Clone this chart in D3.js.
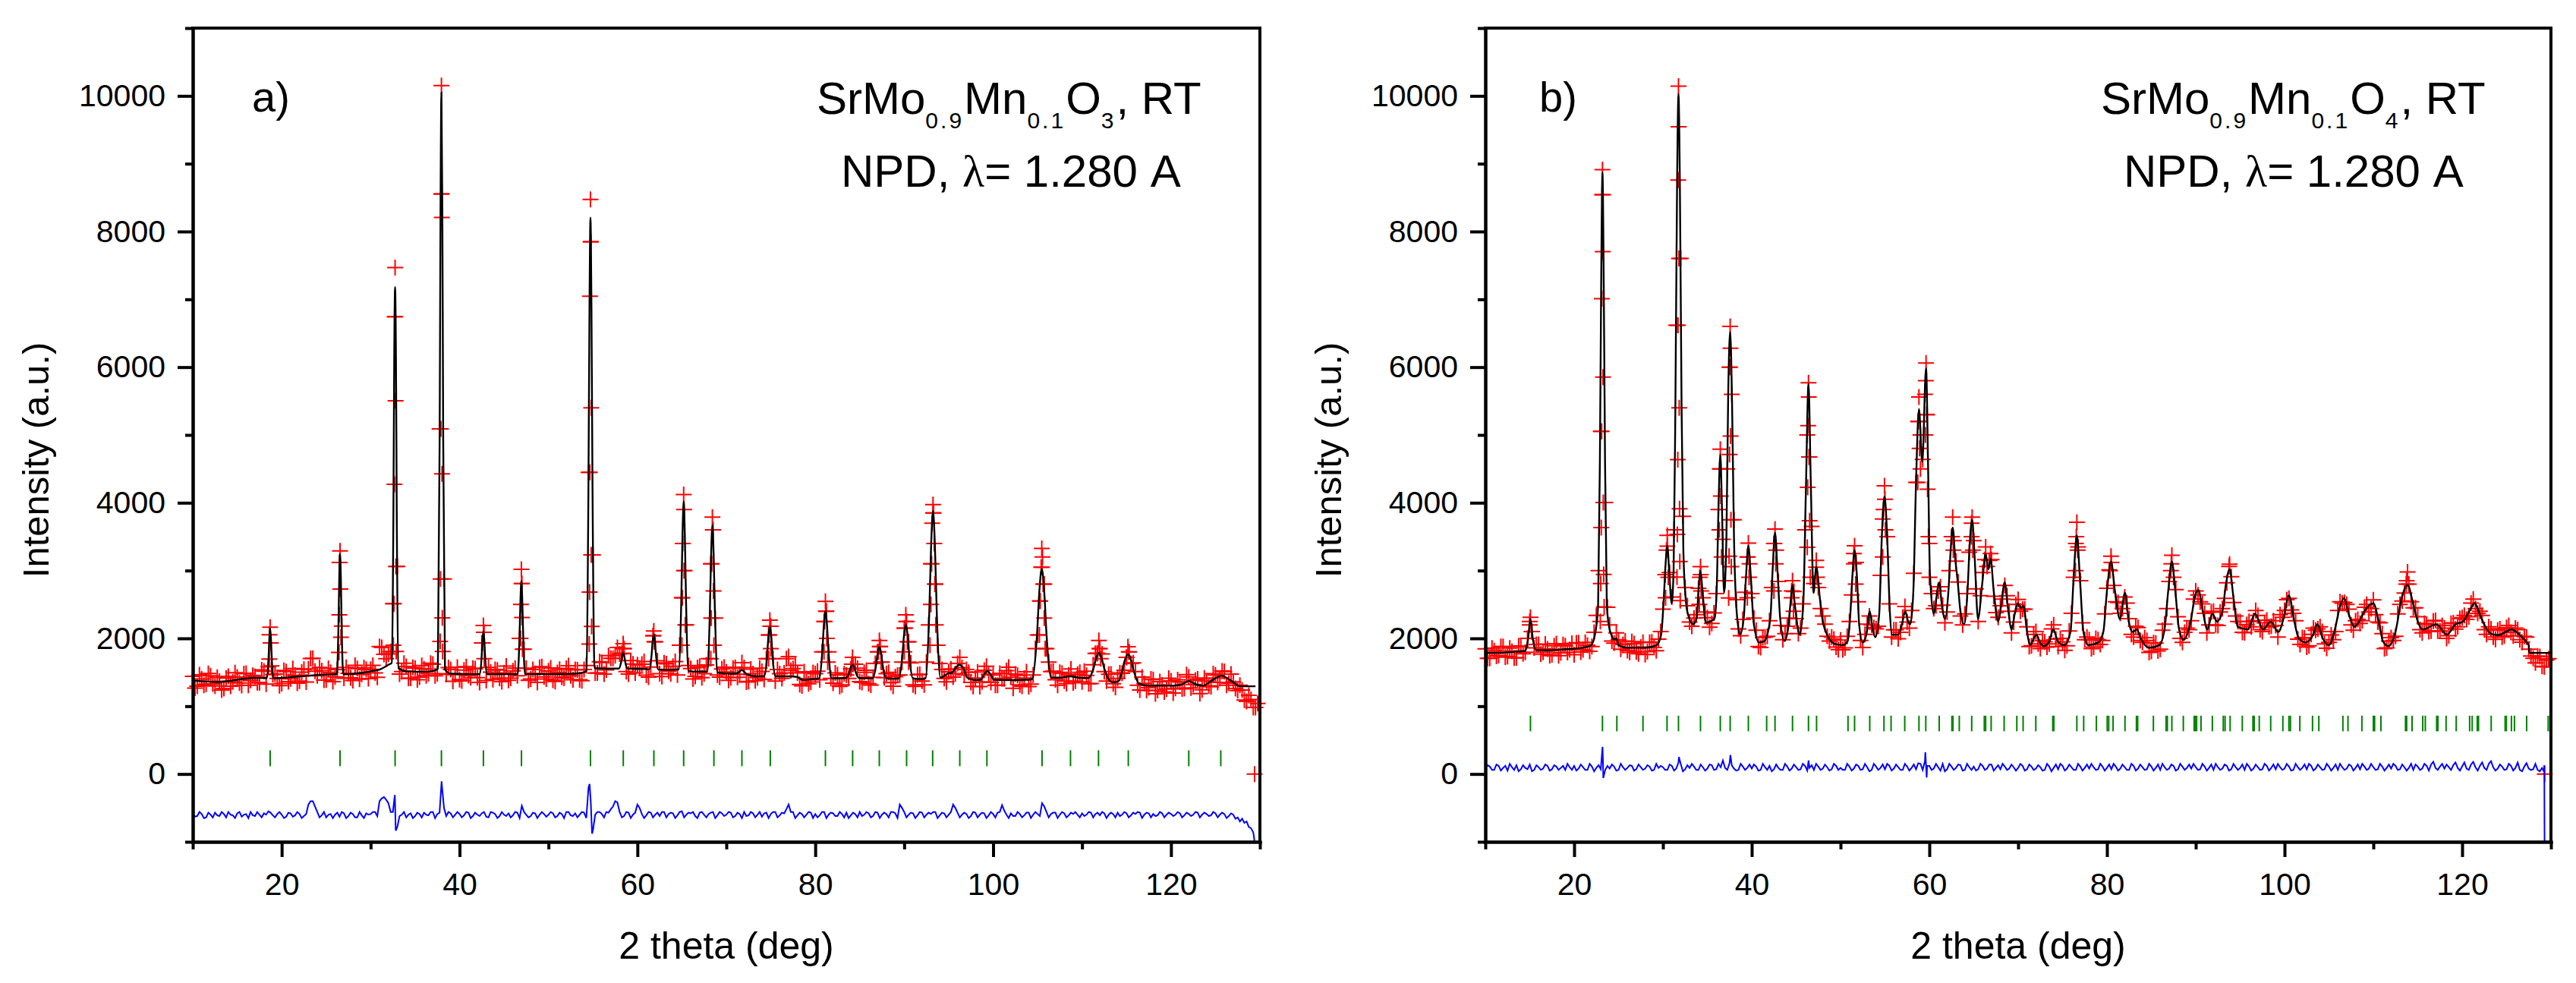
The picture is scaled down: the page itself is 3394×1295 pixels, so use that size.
<!DOCTYPE html>
<html>
<head>
<meta charset="utf-8">
<script src="https://cdn.jsdelivr.net/npm/d3@7"></script>
<style>
  body { margin: 0; background: #fff; }
  text { font-family: "Liberation Sans", Arial, sans-serif; fill: #000; }
</style>
</head>
<body>
<svg id="chart" width="3394" height="1295"></svg>
<script>
// axis ticks
var xMajor = [20, 40, 60, 80, 100, 120];
var xMinor = [10, 30, 50, 70, 90, 110, 130];
var yMajor = [0, 2000, 4000, 6000, 8000, 10000];
var yMinor = [-1000, 1000, 3000, 5000, 7000, 9000, 11000];

// observed band and difference curve are read on a 0.5 deg grid from 10 deg,
// plus a second grid shifted by 0.25 deg
var GRID_START = 10, GRID_STEP = 0.5, GRID_SHIFT = 0.25;

// ---------- a) SrMo0.9Mn0.1O3 ----------
var calcA = [[10,1380],[12.8,1357],[16.9,1418],
  [18.34,1415],[18.52,1709],[18.61,2003],[18.7,2150],[18.79,2003],[18.88,1709],[19.06,1412],
  [22,1440],[25.5,1470],
  [26.2,1472],[26.38,2183],[26.47,2894],[26.56,3250],[26.65,2894],[26.74,2183],[26.92,1472],
  [29,1490],[30.1,1518],[31.0,1540],[32.0,1610],
  [32.37,1640],[32.56,3840],[32.65,6060],[32.75,7180],[32.85,6060],[32.94,3800],[33.13,1560],
  [34,1515],[36.5,1509],[37.3,1530],
  [37.56,1560],[37.76,4940],[37.86,8350],[37.96,10050],[38.06,8350],[38.16,4940],[38.36,1540],
  [39,1480],[41,1472],
  [42.28,1472],[42.48,1726],[42.58,1981],[42.68,2108],[42.78,1981],[42.88,1726],[43.08,1472],
  [45,1472],
  [46.53,1472],[46.74,2022],[46.85,2571],[46.95,2846],[47.05,2571],[47.16,2022],[47.37,1472],
  [50,1472],[53,1480],[54.0,1500],
  [54.26,1520],[54.49,4200],[54.61,6880],[54.72,8206],[54.83,6880],[54.95,4220],[55.18,1560],
  [56.5,1555],[57.5,1555],
  [57.92,1555],[58.16,1647],[58.28,1740],[58.4,1786],[58.52,1740],[58.64,1647],[58.88,1555],
  [60.5,1550],
  [61.34,1545],[61.59,1751],[61.71,1957],[61.84,2060],[61.97,1957],[62.09,1751],[62.34,1540],
  [63.5,1535],[64.4,1540],
  [64.66,1545],[64.93,2537],[65.07,3530],[65.2,4020],[65.33,3530],[65.47,2530],[65.74,1520],
  [66.8,1510],[67.7,1510],
  [67.85,1505],[68.14,2370],[68.29,3240],[68.43,3674],[68.57,3240],[68.72,2370],[69.01,1495],
  [70.5,1480],[71.2,1485],[71.74,1533],[72.3,1470],[73.5,1440],
  [74.27,1445],[74.58,1735],[74.73,2030],[74.89,2177],[75.05,2030],[75.2,1735],[75.51,1440],
  [77,1440],[78.0,1430],[78.6,1385],[79.5,1395],[80.2,1405],
  [80.44,1410],[80.79,1805],[80.97,2205],[81.14,2406],[81.31,2205],[81.49,1805],[81.84,1410],
  [83.2,1415],
  [83.47,1420],[83.83,1500],[84.01,1580],[84.19,1610],[84.37,1580],[84.55,1500],[84.91,1415],
  [86.45,1412],[86.83,1598],[87.02,1784],[87.21,1877],[87.4,1784],[87.59,1598],[87.97,1412],
  [88.8,1405],
  [89.39,1410],[89.78,1730],[89.98,2050],[90.18,2209],[90.38,2050],[90.58,1730],[90.97,1410],
  [92,1400],
  [92.4,1410],[92.82,2390],[93.03,3380],[93.24,3880],[93.45,3380],[93.66,2390],[94.08,1420],
  [95.0,1487],[95.3,1490],[95.75,1560],[96.2,1610],[96.65,1560],[97.1,1420],[98.0,1385],
  [98.6,1390],[99.0,1470],[99.35,1518],[99.7,1470],[100.1,1390],
  [102,1385],[104,1390],
  [104.39,1400],[104.93,2045],[105.2,2700],[105.47,3029],[105.74,2700],[106.01,2045],[106.55,1420],
  [107.5,1420],[108.65,1440],[109.8,1418],
  [110.69,1415],[111.29,1560],[111.59,1710],[111.89,1786],[112.19,1710],[112.49,1560],[113.09,1380],[113.4,1352],
  [114.1,1370],[114.53,1530],[114.84,1690],[115.16,1762],[115.48,1690],[115.79,1530],[116.42,1330],
  [117.5,1302],[120,1302],[121.2,1320],[121.98,1372],[122.8,1320],[123.6,1302],[124.6,1380],
  [125.69,1450],[126.7,1380],[127.8,1293],[129.5,1293]];

var obsGridA = [
  1440,1295,1400,1325,1450,1298,1367,1262,1440,1360,1428,1306,1484,1382,1438,1346,1515,1580,1465,1410,
  1335,1510,1405,1458,1370,1545,1550,1705,1450,1523,1387,1500,1432,3120,1412,1485,1380,1555,1470,1540,
  1545,1490,1880,1765,1770,2513,3060,1510,1585,1412,1560,1430,1550,1479,1620,1480,8553,1470,1540,1466,
  1394,1532,1452,1562,1422,1933,1380,1502,1542,1412,1492,1382,1522,1450,2808,1560,1402,1482,1572,1432,
  1522,1384,1495,1426,1557,1448,1540,1390,1540,4449,3231,1490,1645,1535,1705,1745,1770,1850,1475,1622,
  1610,1620,1458,1578,1950,1480,1638,1515,1588,1460,2600,2200,1555,1440,1590,1480,1700,3600,1460,1550,
  1505,1420,1573,1470,1570,1365,1480,1420,1513,1700,2180,1370,1480,1490,1730,1555,1490,1300,1408,1355,
  1480,1390,2250,1800,1340,1462,1315,1460,1550,1620,1362,1500,1330,1425,1800,1650,1480,1347,1435,1460,
  2150,1950,1315,1462,1370,1650,3100,2800,1630,1410,1507,1430,1630,1570,1540,1350,1415,1288,1530,1470,
  1460,1308,1405,1525,1425,1475,1315,1416,1288,1460,2050,3050,1850,1510,1390,1500,1370,1460,1345,1470,
  1358,1455,1335,1780,1850,1510,1470,1332,1410,1485,1720,1630,1510,1240,1335,1272,1392,1232,1312,1252,
  1372,1265,1355,1260,1432,1320,1400,1242,1370,1285,1460,1415,1510,1340,1360,1230,1240,1070,1100,980];

var obsGrid2A = [
  1268,1462,1308,1482,1329,1427,1240,1416,1295,1494,1342,1480,1308,1455,1347,1535,1325,1933,1475,1302,
  1527,1362,1556,1339,1502,1357,1702,1517,1571,1385,1558,1361,1540,2183,1573,1417,1602,1397,1565,1407,
  1602,1425,1865,1700,1805,6744,1475,1632,1413,1571,1390,1600,1450,1634,1448,5089,2876,1570,1368,1575,
  1373,1582,1422,1552,1352,2090,1572,1392,1532,1362,1592,1412,1562,2000,1840,1382,1542,1352,1582,1402,
  1563,1364,1545,1416,1597,1389,1535,1375,1600,7848,1488,1656,1475,1745,1705,1865,1780,1510,1673,1491,
  1560,1659,1428,2040,1670,1438,1626,1476,1659,1900,3000,1600,1402,1570,1420,1608,3100,2300,1430,1575,
  1382,1561,1427,1643,1355,1548,1375,1561,1395,2050,1700,1540,1410,1700,1528,1602,1320,1507,1332,1497,
  1516,1800,2400,1410,1491,1293,1476,1410,1620,1560,1351,1530,1311,1630,1880,1420,1499,1295,1458,1650,
  2250,1640,1293,1471,1315,2200,3850,1900,1540,1360,1550,1480,1720,1460,1500,1292,1506,1360,1590,1350,
  1308,1486,1405,1575,1265,1455,1295,1507,1325,1850,2550,2800,1650,1515,1310,1485,1335,1550,1370,1498,
  1516,1330,1610,1780,1770,1370,1475,1278,1490,1530,1800,1640,1310,1430,1233,1402,1182,1362,1212,1412,
  1194,1390,1255,1465,1270,1385,1185,1415,1300,1480,1350,1518,1310,1475,1260,1310,1090,1160,980,1040];

var obsPeakA = [
  [18.7,2164],[18.62,2052],[18.78,1933],[18.6,1694],[18.85,1593],
  [26.56,3290],[26.52,3120],[26.6,2729],[26.48,2347],[26.66,2018],[26.44,1794],
  [32.75,7467],[32.7,6744],[32.8,5505],[32.68,4272],[32.84,3060],[32.62,2513],[32.88,1808],[32.55,1900],
  [37.96,10153],[37.93,8553],[38.0,8206],[37.9,5089],[38.03,4426],[37.86,2876],[38.06,2301],[37.82,1956],[38.1,1808],
  [42.68,2190],[42.72,2090],[42.62,1933],[42.78,1700],
  [46.95,3019],[46.98,2808],[46.9,2500],[47.02,2307],[46.86,2000],[47.08,1840],
  [54.72,8474],[54.75,7848],[54.68,7046],[54.8,5400],[54.65,4449],[54.8,3231],[54.62,2683],[54.85,2177],[54.58,1917],
  [58.4,1923],[58.45,1850],[58.3,1780],
  [61.84,2110],[61.8,2040],[61.9,1950],
  [65.2,4120],[65.25,3900],[65.1,3400],[65.3,3000],[65.05,2600],[65.38,2200],[65.0,1900],
  [68.43,3787],[68.48,3600],[68.35,3100],[68.55,2700],[68.3,2300],[68.6,1900],[68.25,1700],
  [74.89,2269],[74.95,2180],[74.82,2050],[75.0,1850],[74.75,1700],
  [81.14,2545],[81.2,2400],[81.05,2250],[81.3,2000],[80.98,1800],[81.4,1650],
  [84.19,1720],[84.1,1620],
  [87.21,1969],[87.3,1880],[87.1,1800],[87.4,1650],
  [90.18,2347],[90.25,2250],[90.1,2150],[90.35,1950],[90.0,1800],[90.5,1650],
  [93.24,3972],[93.3,3850],[93.15,3700],[93.38,3400],[93.08,3100],[93.45,2800],[93.0,2500],[93.55,2200],[92.9,1900],
  [105.47,3327],[105.55,3200],[105.4,3050],[105.62,2800],[105.3,2550],[105.75,2300],[105.2,2050],[105.85,1850],
  [111.89,1969],[111.95,1850],[111.7,1780],[112.1,1700],
  [115.16,1877],[115.3,1800],[115.0,1720],
  [129.4,0]];

var diffGridA = [
  -580,-620,-590,-640,-600,-570,-620,-590,-560,-610,-580,-630,-590,-560,-620,-600,-580,-550,-610,-590,
  -600,-630,-580,-610,-590,-620,-450,-400,-560,-610,-640,-590,-600,-630,-580,-620,-590,-640,-610,-580,
  -590,-560,-400,-340,-430,-560,-780,-600,-640,-580,-620,-590,-570,-610,-560,-590,-150,-620,-580,-600,
  -590,-610,-570,-620,-600,-580,-630,-560,-590,-620,-600,-580,-610,-570,-470,-600,-620,-580,-600,-590,
  -600,-580,-620,-590,-560,-610,-580,-600,-570,-200,-830,-560,-590,-560,-520,-400,-560,-620,-570,-600,
  -450,-590,-610,-570,-600,-620,-560,-590,-580,-610,-550,-600,-580,-620,-570,-600,-590,-560,-610,-580,
  -600,-570,-620,-590,-560,-610,-580,-600,-630,-570,-590,-560,-610,-580,-450,-560,-610,-590,-600,-570,
  -590,-610,-560,-600,-580,-620,-590,-570,-610,-590,-560,-600,-580,-620,-570,-600,-590,-560,-580,-450,
  -560,-600,-580,-610,-570,-600,-590,-560,-610,-580,-600,-450,-570,-600,-590,-620,-570,-600,-580,-610,
  -590,-570,-460,-600,-580,-620,-590,-610,-570,-600,-590,-430,-560,-590,-570,-600,-580,-610,-590,-600,
  -580,-600,-570,-590,-610,-580,-600,-590,-570,-600,-580,-610,-590,-570,-600,-580,-590,-610,-580,-600,
  -590,-600,-580,-610,-590,-600,-570,-600,-590,-610,-580,-600,-590,-620,-600,-640,-660,-700,-800];
var diffGrid2A = [
  -630,-560,-650,-570,-640,-610,-560,-640,-600,-650,-560,-600,-650,-610,-560,-640,-600,-570,-640,-560,
  -650,-570,-630,-560,-650,-590,-400,-480,-640,-560,-600,-650,-570,-560,-650,-570,-640,-560,-650,-600,
  -560,-620,-360,-380,-560,-450,-620,-560,-600,-650,-570,-640,-600,-560,-650,-570,-500,-560,-640,-560,
  -640,-560,-650,-570,-620,-560,-640,-570,-650,-560,-620,-640,-560,-650,-560,-640,-570,-650,-560,-630,
  -560,-640,-570,-650,-560,-620,-640,-560,-650,-400,-600,-560,-640,-570,-480,-420,-640,-560,-650,-570,
  -500,-650,-560,-640,-570,-560,-640,-570,-650,-560,-640,-570,-560,-650,-560,-640,-570,-650,-560,-620,
  -560,-640,-570,-650,-620,-560,-640,-560,-580,-650,-560,-640,-570,-520,-560,-650,-570,-640,-560,-650,
  -640,-560,-650,-570,-620,-560,-640,-650,-570,-640,-620,-560,-640,-560,-650,-570,-640,-560,-650,-500,
  -640,-570,-650,-560,-640,-570,-560,-650,-570,-640,-560,-500,-640,-570,-650,-560,-640,-570,-650,-560,
  -640,-560,-540,-650,-620,-560,-640,-570,-650,-560,-620,-480,-640,-570,-650,-560,-640,-570,-560,-640,
  -620,-560,-640,-570,-560,-650,-570,-640,-620,-560,-640,-570,-560,-650,-570,-640,-620,-560,-640,-570,
  -620,-560,-640,-570,-620,-560,-640,-570,-620,-560,-640,-570,-650,-580,-660,-700,-720,-780,-860];
var diffExtraA = [[32.72,-310],[32.82,-835],[37.98,-107],[54.62,-148],[54.9,-880],[129.3,-900],[129.4,-1000]];

var braggA = [18.7,26.56,32.75,37.96,42.68,46.96,54.72,58.41,61.85,65.2,68.6,71.75,74.94,81.14,84.2,
  87.2,90.27,93.2,96.25,99.3,105.5,108.7,111.85,115.2,122.0,125.6];
var braggSpanA = [115, 350];

// ---------- b) SrMo0.9Mn0.1O4 ----------
var calcB = [[10,1786],[12,1790],[14,1810],
  [14.5,1815],[14.8,1980],[15.08,2286],[15.35,1990],[15.7,1830],
  [17,1824],[19,1840],[21,1862],[21.9,1900],[22.4,2094],
  [22.7,2500],[22.9,4600],[23.05,7300],[23.19,8874],[23.33,7300],[23.48,4600],[23.68,2500],[23.9,2200],
  [24.2,2050],[24.45,1985],[24.75,2000],[25.0,1900],[26,1862],[28,1862],[29.3,1900],[29.8,2055],[30.1,2600],
  [30.3,3100],[30.49,3365],[30.7,3000],[30.98,2518],
  [31.2,3000],[31.4,5400],[31.6,8800],[31.75,10030],[31.9,8800],[32.1,5400],[32.3,3300],[32.55,2600],[32.8,2363],[33.4,2209],
  [33.8,2300],[34.0,2700],[34.23,2995],[34.45,2700],[34.83,2232],[35.3,2248],[35.8,2290],
  [36.05,2700],[36.25,3900],[36.46,4713],[36.65,3900],[36.88,2672],
  [37.15,3500],[37.35,5600],[37.57,6524],[37.78,5500],[38.0,3500],[38.3,2400],[38.68,2055],
  [39.1,2300],[39.35,2900],[39.62,3365],[39.9,2900],[40.2,2250],[40.82,1940],[41.4,1960],
  [42.1,2300],[42.35,3000],[42.62,3558],[42.9,3000],[43.2,2300],[43.68,1963],
  [44.1,2150],[44.35,2500],[44.59,2787],[44.85,2500],[45.39,2055],
  [45.8,2500],[46.1,4200],[46.39,5754],[46.65,4300],[46.96,2672],[47.27,3057],[47.67,2595],[48.0,2250],
  [48.24,2132],[49.38,1917],[50.24,1901],
  [50.8,1960],[51.1,2350],[51.35,2950],[51.58,3303],[51.85,2900],[52.1,2200],[52.49,1940],
  [52.9,2050],[53.29,2402],[53.6,2150],[53.92,2017],
  [54.35,2350],[54.65,3500],[54.95,4097],[55.25,3500],[55.55,2400],[55.8,2055],[56.5,2055],
  [56.9,2200],[57.29,2402],[57.6,2250],[57.86,2209],
  [58.2,2700],[58.5,4300],[58.83,5384],[59.2,4598],[59.63,5985],[59.85,4600],[60.06,2980],[60.48,2363],
  [61.11,2826],[61.4,2500],[61.77,2286],
  [62.15,2700],[62.4,3300],[62.63,3635],[62.9,3200],[63.2,2826],[63.5,2400],[63.91,2209],
  [64.3,2700],[64.55,3400],[64.82,3750],[65.1,3200],[65.48,2286],
  [65.95,2800],[66.34,3250],[66.65,3018],[66.9,3172],[67.25,2700],[67.76,2248],
  [68.1,2500],[68.48,2826],[68.85,2450],[69.27,2132],
  [69.6,2350],[69.96,2518],[70.3,2450],[70.6,2479],[71.0,2100],[71.33,1901],
  [72.04,2055],[72.5,1930],[72.9,1886],
  [73.5,1950],[73.95,2132],[74.5,1950],[75.2,1901],
  [75.9,2100],[76.25,2900],[76.61,3519],[76.95,2900],[77.35,2100],[77.9,1901],[79.03,1940],
  [79.6,2100],[80.0,2700],[80.46,3134],[80.9,2700],[81.46,2286],
  [82.03,2672],[82.45,2250],[82.9,2094],[83.37,2132],[83.8,2000],[84.74,1862],[85.9,1901],
  [86.5,2150],[86.9,2700],[87.31,3134],[87.7,2700],[88.1,2150],[88.6,1978],
  [89.5,2300],[89.9,2620],[90.3,2710],[90.8,2400],[91.3,2132],
  [91.87,2363],[92.4,2248],
  [93.0,2400],[93.4,2800],[93.81,3018],[94.25,2600],[94.73,2171],[95.87,2132],
  [96.67,2363],[97.58,2132],[98.44,2248],[99.3,2094],
  [99.9,2300],[100.49,2633],[101.1,2250],[101.6,2000],[102.4,1940],
  [103.2,2050],[103.7,2209],[104.3,2000],[105.0,1901],
  [105.7,2150],[106.2,2450],[106.71,2595],[107.25,2350],[107.86,2171],
  [108.4,2250],[109.0,2402],[110.0,2518],[110.6,2250],[111.1,1950],[111.7,1886],
  [112.5,2100],[113.2,2600],[113.85,2787],[114.5,2500],[115.0,2250],[115.56,2132],
  [117.1,2209],[118.27,2055],[119.27,2209],[120.1,2248],
  [120.8,2400],[121.41,2518],[122.0,2350],[122.7,2150],[123.55,2055],[124.1,2050],[125.55,2132],
  [126.5,2050],[127.27,1940],[127.5,1900],[127.55,1786],[130,1786]];

var obsGridB = [
  1846,1706,1818,1748,1880,1735,1810,1715,1880,1795,2250,1860,1910,1796,1844,1758,1922,1786,1890,1835,
  1760,1935,1832,1900,1880,2340,5052,4005,2200,1930,1980,1910,1822,1952,1802,1872,1762,1940,1865,1990,
  2430,3360,2610,6617,7603,2750,2240,2300,2740,2600,2305,2220,2660,4500,2850,6000,3750,2140,2280,3200,
  2660,2120,1865,2020,2260,3400,2840,1980,2180,2700,2290,2150,3600,4675,2810,2750,2330,2030,2020,1870,
  1975,1860,2250,3250,2540,1865,2210,2200,2140,2930,4050,2510,2125,1995,2310,2240,2410,4300,5000,5600,
  3400,2440,2700,2490,2390,3500,3140,2330,2360,3270,3440,2250,2970,3060,3160,2380,2480,2780,2400,2240,
  2575,2430,2170,1890,2100,1850,1950,1920,2200,1880,1950,1890,2370,3400,2850,1980,1980,1870,1980,1970,
  2740,3120,2540,2370,2610,2290,2020,2160,1940,1970,1810,1930,1840,2210,2840,2900,2320,1940,2150,2260,
  2700,2540,2370,2200,2400,2190,2440,2820,2910,2330,2245,2085,2250,2260,2340,2100,2270,2180,2190,2350,
  2410,2590,2370,1990,2010,1870,2060,2120,2170,1920,1941,1980,2410,2520,2500,2200,2260,2220,2460,2390,
  2568,2240,2070,1860,2010,2030,2500,2670,2800,2450,2320,2080,2210,2110,2265,2110,2150,2040,2230,2170,
  2305,2280,2520,2440,2400,2130,2170,2020,2120,2020,2160,2090,2150,1980,2030,1840,1706,1740,1590,1680];

var obsGrid2B = [
  1706,1857,1738,1879,1722,1857,1712,1887,1772,2000,2100,1910,1768,1915,1746,1890,1744,1908,1792,1928,
  1932,1798,1940,1810,2090,3000,8543,2460,1960,2080,1840,1960,1792,1922,1772,1942,1805,1948,1818,2100,
  2940,2970,3600,9544,3800,2480,2180,2350,2940,2390,2166,2375,3900,3460,4500,5600,2570,2040,2680,3100,
  2300,1880,2015,2030,2750,3300,2190,2070,2300,2690,2070,2510,5000,3650,3050,2440,2210,1960,1990,1835,
  1832,2030,2640,3120,1970,2060,2330,2160,2180,3760,3500,2020,2125,2090,2470,2150,2960,5200,4640,5300,
  2660,2480,2760,2230,3000,3440,2830,2200,2660,3700,2730,2630,3160,3150,2620,2310,2580,2630,2080,2500,
  2400,2430,1880,2060,1920,1970,1870,2140,1990,2000,1825,2110,2900,3350,2230,2020,1850,2000,1910,2360,
  3010,2780,2530,2440,2520,2060,2180,1970,2010,1792,1935,1815,2120,2440,3100,2720,2000,2090,2130,2580,
  2640,2510,2080,2390,2200,2390,2590,3060,2530,2250,2090,2205,2170,2410,2130,2230,2170,2260,2020,2310,
  2570,2420,2260,1910,2005,1890,2150,2140,2100,1855,2050,2100,2540,2530,2430,2120,2280,2260,2500,2440,
  2350,2230,1850,1960,1970,2360,2550,2850,2540,2450,2130,2220,2100,2255,2110,2190,2000,2220,2138,2295,
  2340,2320,2580,2370,2340,2060,2140,1985,2140,2035,2190,2035,2130,1945,2020,1740,1640,1730,1580,1700];

var obsPeakB = [
  [15.08,2310],[15.0,2200],[15.2,2100],
  [23.19,8913],[23.15,8543],[23.22,7703],[23.12,7010],[23.25,5854],[23.1,5052],[23.28,4005],[23.05,3635],
  [23.33,2942],[23.0,2810],[23.38,2464],[22.95,2248],
  [30.49,3519],[30.4,3300],[30.6,2900],[30.3,2600],
  [31.75,10145],[31.78,9544],[31.72,8758],[31.8,7603],[31.7,6617],[31.83,5399],[31.67,4636],[31.87,3912],
  [31.62,3534],[31.9,3134],[31.58,2903],[31.95,2556],
  [34.23,3057],[34.15,2900],[34.3,2700],[34.1,2500],
  [36.46,4790],[36.4,4500],[36.52,4100],[36.35,3600],[36.6,3200],
  [37.57,6601],[37.6,6278],[37.54,6000],[37.62,4983],[37.5,4713],[37.66,3750],[37.45,3211],[37.7,3057],[37.4,2595],
  [39.62,3404],[39.55,3200],[39.7,2900],[39.5,2600],
  [42.62,3612],[42.55,3400],[42.7,3100],[42.5,2700],
  [44.59,2850],[44.5,2600],[44.7,2400],
  [46.39,5769],[46.42,5561],[46.35,5137],[46.45,4675],[46.3,4228],[46.52,3735],[46.25,3342],[46.6,2900],
  [47.27,3150],[47.35,2900],
  [51.58,3365],[51.5,3100],[51.7,2800],
  [54.95,4251],[54.85,3900],[55.05,3600],[54.75,3200],
  [58.83,5561],[58.75,5200],[58.9,4800],[58.7,4300],[59.0,4500],
  [59.63,6062],[59.6,5800],[59.7,5300],[59.55,5000],[59.8,4200],[59.9,3500],[60.0,2900],
  [62.63,3789],[62.55,3500],[62.7,3300],
  [64.82,3789],[64.75,3500],[64.9,3300],
  [66.34,3350],[66.9,3250],
  [76.61,3712],[76.55,3500],[76.7,3300],[76.45,3000],
  [80.46,3211],[80.35,3000],
  [87.31,3227],[87.2,3000],
  [93.81,3095],
  [113.85,2980],[113.7,2800],
  [129.3,0]];

var diffGridB = [
  80,110,60,120,90,50,100,130,70,90,140,60,100,80,120,70,110,90,60,100,
  120,80,100,60,110,90,70,60,80,110,60,100,90,120,70,100,80,110,60,90,
  100,60,120,80,150,70,90,110,60,100,80,130,70,100,90,160,80,60,110,90,
  80,110,60,100,120,70,90,60,110,80,100,70,120,90,60,110,80,100,70,120,
  90,60,110,80,120,70,100,60,110,90,70,120,80,100,60,110,90,70,150,190,
  120,80,100,150,70,110,90,130,60,100,110,70,120,80,140,90,70,110,80,100,
  90,120,70,110,80,100,60,110,90,70,120,80,100,60,110,90,80,100,70,110,
  90,70,110,80,100,60,120,80,100,70,110,90,60,100,80,120,70,110,90,80,
  100,70,110,90,60,100,80,120,70,100,90,60,110,80,100,70,120,90,70,100,
  80,110,60,100,90,70,120,80,100,70,110,90,60,100,80,120,90,70,110,80,
  100,70,110,90,80,120,70,100,90,60,110,80,120,140,90,110,80,100,130,90,
  110,80,140,100,120,90,150,100,80,110,70,120,90,60,110,80,70,60,90];
var diffGrid2B = [
  130,60,140,50,120,150,60,40,130,70,40,130,60,140,50,130,60,120,150,60,
  50,140,60,150,40,130,160,120,140,50,150,60,130,50,140,60,130,50,150,120,
  60,140,50,170,40,130,150,60,140,50,140,60,150,200,60,130,50,150,60,140,
  140,50,150,60,40,140,60,150,50,140,60,150,50,130,150,60,140,50,150,60,
  60,150,50,140,60,150,40,150,60,140,150,50,140,60,150,50,140,160,60,120,
  60,150,50,40,150,60,140,50,150,60,50,150,60,140,50,130,150,60,140,50,
  150,50,140,60,130,50,150,40,140,150,50,140,60,150,50,140,150,60,150,50,
  140,150,50,140,60,150,50,140,60,150,50,140,150,60,140,50,150,60,140,150,
  60,150,50,140,150,60,140,50,150,60,140,150,50,140,60,150,50,140,150,60,
  150,50,150,60,140,150,50,140,60,150,50,140,150,60,140,50,140,150,60,150,
  60,150,50,140,150,60,140,50,150,140,60,150,50,180,60,150,140,60,170,50,
  170,60,180,50,170,60,190,50,140,60,150,50,170,40,160,60,150,40,130];
var diffExtraB = [[23.2,400],[23.28,-60],[31.8,250],[37.6,280],[46.4,200],[59.55,320],[59.7,-50],
  [129.2,40],[129.28,-1000]];

var braggB = [15.08,23.19,24.81,27.75,30.46,31.75,34.23,36.46,37.57,39.62,41.68,42.62,44.59,46.39,47.3,
  50.84,51.58,53.29,54.89,55.69,57.23,58.83,59.6,61.11,62.54,62.66,63.37,64.77,66.19,66.34,66.96,68.42,
  69.85,70.56,71.99,73.9,74.02,76.61,77.38,78.81,80.03,80.2,80.69,82.03,83.32,83.46,85.23,86.66,86.8,
  87.31,88.6,89.82,89.95,90.1,90.59,91.87,93.1,93.3,93.87,95.24,96.44,96.58,97.15,98.44,99.81,100.49,
  100.66,101.72,103.15,103.86,106.57,107.14,108.71,110.0,110.14,110.85,113.62,113.75,114.36,115.56,
  115.85,117.13,117.27,118.19,119.33,120.84,121.13,121.7,121.84,123.27,124.84,124.98,125.55,125.89,
  127.26,129.69,129.89];
var braggSpanB = [630, 860];

var svg = d3.select("#chart");

drawPanel({
  left: 254, right: 1660, label: "a)", oxygen: "3", textX: [1076, 1108], labelX: 332,
  calc: calcA, obs: [obsGridA, obsGrid2A], obsPeak: obsPeakA,
  diff: [diffGridA, diffGrid2A], diffExtra: diffExtraA,
  bragg: braggA, braggSpan: braggSpanA
});
drawPanel({
  left: 1957, right: 3361, label: "b)", oxygen: "4", textX: [2768, 2798], labelX: 2028,
  calc: calcB, obs: [obsGridB, obsGrid2B], obsPeak: obsPeakB,
  diff: [diffGridB, diffGrid2B], diffExtra: diffExtraB,
  bragg: braggB, braggSpan: braggSpanB
});

function gridPoints(values, shift) {
  return values.map(function(v, i) { return [GRID_START + shift + i * GRID_STEP, v]; });
}

function drawPanel(p) {
  var top = 37, bottom = 1109;
  var x = d3.scaleLinear().domain([10, 130]).range([p.left, p.right]);
  var y = d3.scaleLinear().domain([-1000, 11000]).range([bottom, top]);
  var g = svg.append("g");

  // observed points as red plus signs
  var obs = gridPoints(p.obs[0], 0).concat(gridPoints(p.obs[1], GRID_SHIFT), p.obsPeak);
  g.append("g")
    .attr("stroke", "#ff0000")
    .attr("stroke-width", 2)
    .attr("fill", "none")
    .selectAll("path")
    .data(obs)
    .enter().append("path")
    .attr("d", function(d) {
      var cx = x(d[0]), cy = y(d[1]);
      return "M" + (cx - 10.5) + "," + cy + "h21M" + cx + "," + (cy - 10.5) + "v21";
    });

  // calculated profile
  g.append("path")
    .datum(p.calc)
    .attr("d", d3.line().x(function(d) { return x(d[0]); }).y(function(d) { return y(d[1]); })
      .curve(d3.curveMonotoneX))
    .attr("fill", "none")
    .attr("stroke", "#000")
    .attr("stroke-width", 2.4);

  // Bragg reflections
  g.append("g")
    .selectAll("line")
    .data(p.bragg)
    .enter().append("line")
    .attr("x1", function(d) { return x(d); })
    .attr("x2", function(d) { return x(d); })
    .attr("y1", y(p.braggSpan[0]))
    .attr("y2", y(p.braggSpan[1]))
    .attr("stroke", "#008000")
    .attr("stroke-width", 2);

  // difference curve
  var diff = gridPoints(p.diff[0], 0).concat(gridPoints(p.diff[1], GRID_SHIFT), p.diffExtra)
    .sort(function(a, b) { return a[0] - b[0]; });
  g.append("path")
    .datum(diff)
    .attr("d", d3.line().x(function(d) { return x(d[0]); }).y(function(d) { return y(d[1]); }))
    .attr("fill", "none")
    .attr("stroke", "#0000ff")
    .attr("stroke-width", 2);

  // axes
  var xMin = g.append("g").attr("transform", "translate(0," + bottom + ")")
    .call(d3.axisBottom(x).tickValues(xMinor).tickSize(10).tickSizeOuter(0).tickFormat(""));
  var xMaj = g.append("g").attr("transform", "translate(0," + bottom + ")")
    .call(d3.axisBottom(x).tickValues(xMajor).tickSize(20).tickSizeOuter(0).tickPadding(21)
      .tickFormat(d3.format("d")));
  var yMin = g.append("g").attr("transform", "translate(" + p.left + ",0)")
    .call(d3.axisLeft(y).tickValues(yMinor).tickSize(10).tickSizeOuter(0).tickFormat(""));
  var yMaj = g.append("g").attr("transform", "translate(" + p.left + ",0)")
    .call(d3.axisLeft(y).tickValues(yMajor).tickSize(20).tickSizeOuter(0).tickPadding(16)
      .tickFormat(d3.format("d")));
  [xMin, xMaj, yMin, yMaj].forEach(function(a) {
    a.selectAll("line").attr("stroke-width", 4);
    a.select(".domain").attr("stroke-width", 4).attr("stroke-linecap", "square");
    a.selectAll("text").attr("font-size", 41).attr("font-family", "Liberation Sans, Arial, sans-serif");
  });
  g.append("path")
    .attr("d", "M" + x(10) + "," + y(11000) + "H" + x(130) + "V" + y(-1000))
    .attr("fill", "none")
    .attr("stroke", "#000")
    .attr("stroke-width", 4)
    .attr("stroke-linecap", "square");

  // axis titles
  g.append("text")
    .attr("x", (p.left + p.right) / 2)
    .attr("y", 1263)
    .attr("text-anchor", "middle")
    .attr("font-size", 50)
    .text("2 theta (deg)");
  g.append("text")
    .attr("transform", "translate(" + (p.left - 190) + ",606) rotate(-90)")
    .attr("text-anchor", "middle")
    .attr("font-size", 49)
    .text("Intensity (a.u.)");

  // panel letter
  g.append("text")
    .attr("x", p.labelX)
    .attr("y", 147)
    .attr("font-size", 56)
    .text(p.label);

  // sample annotation
  var t = g.append("text").attr("x", p.textX[0]).attr("y", 150).attr("font-size", 60);
  t.append("tspan").text("SrMo");
  t.append("tspan").attr("dy", 19).attr("font-size", 30).attr("letter-spacing", 3).text("0.9");
  t.append("tspan").attr("dy", -19).text("Mn");
  t.append("tspan").attr("dy", 19).attr("font-size", 30).attr("letter-spacing", 3).text("0.1");
  t.append("tspan").attr("dy", -19).text("O");
  t.append("tspan").attr("dy", 19).attr("font-size", 30).attr("letter-spacing", 3).text(p.oxygen);
  t.append("tspan").attr("dy", -19).text(", RT");

  var t2 = g.append("text").attr("x", p.textX[1]).attr("y", 246).attr("font-size", 60);
  t2.append("tspan").text("NPD, ");
  t2.append("tspan").attr("font-family", "Liberation Serif, serif").text("\u03bb");
  t2.append("tspan").text("= 1.280 A");
}
</script>
</body>
</html>
